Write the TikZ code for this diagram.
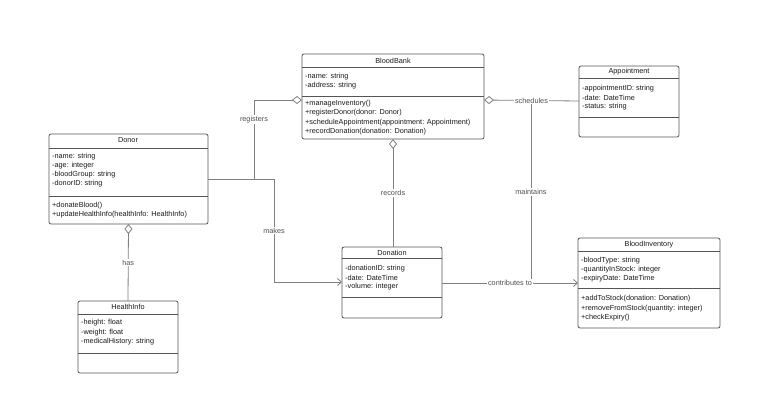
\documentclass[tikz,border=0pt]{standalone}
\usepackage{fontspec}
\setmainfont{Liberation Sans}
\usetikzlibrary{arrows.meta}
\definecolor{boxline}{HTML}{555555}
\definecolor{txt}{HTML}{1A1A1A}
\definecolor{conline}{HTML}{808080}
\definecolor{lbl}{HTML}{505050}
\tikzset{
  cls/.style={draw=boxline, line width=0.8pt, rounded corners=2pt, anchor=north west, inner sep=0pt, outer sep=0pt},
  sepline/.style={draw=boxline, line width=0.8pt},
  ttl/.style={font=\fontsize{7.3}{8}\selectfont, text=txt, inner sep=0pt},
  attr/.style={font=\fontsize{7.3}{8}\selectfont, text=txt, inner sep=0pt, anchor=west},
  conn/.style={draw=conline, line width=0.8pt},
  agg/.style={{Diamond[open,length=10pt,width=8pt,line width=0.8pt]}-},
  barb/.style={-{Straight Barb[length=4pt,width=7pt,line width=0.8pt]}},
  lab/.style={font=\fontsize{7.3}{8}\selectfont, text=lbl, fill=white, inner sep=1pt}
}
\begin{document}
\begin{tikzpicture}[x=1pt,y=-1pt]
\useasboundingbox[fill=white] (0,0) rectangle (768,418);

% BloodBank
\node[cls, minimum width=182pt, minimum height=85pt] (bb) at (302,54) {};
\node[ttl] (bbt) at (393,60.5) {BloodBank};
\draw[sepline] (302,67) -- (484,67);
\node[attr] (bba1) at (305,76.5) {-name: string};
\node[attr] (bba2) at (305,86) {-address: string};
\draw[sepline] (302,96.5) -- (484,96.5);
\node[attr] (bbm1) at (305,104) {+manageInventory()};
\node[attr] (bbm2) at (305,113) {+registerDonor(donor: Donor)};
\node[attr] (bbm3) at (305,122.5) {+scheduleAppointment(appointment: Appointment)};
\node[attr] (bbm4) at (305,131.5) {+recordDonation(donation: Donation)};

% Donor
\node[cls, minimum width=159pt, minimum height=90pt] (don) at (49,134) {};
\node[ttl] (dont) at (128,140.5) {Donor};
\draw[sepline] (49,148) -- (208,148);
\node[attr] (dona1) at (52,157) {-name: string};
\node[attr] (dona2) at (52,166) {-age: integer};
\node[attr] (dona3) at (52,175) {-bloodGroup: string};
\node[attr] (dona4) at (52,184) {-donorID: string};
\draw[sepline] (49,196.5) -- (208,196.5);
\node[attr] (donm1) at (52,205.5) {+donateBlood()};
\node[attr] (donm2) at (52,214.5) {+updateHealthInfo(healthInfo: HealthInfo)};

% Appointment
\node[cls, minimum width=100pt, minimum height=71pt] (app) at (579,66) {};
\node[ttl] (appt) at (629,72) {Appointment};
\draw[sepline] (579,78.5) -- (679,78.5);
\node[attr] (appa1) at (582,88.5) {-appointmentID: string};
\node[attr] (appa2) at (582,97.5) {-date: DateTime};
\node[attr] (appa3) at (582,106.5) {-status: string};
\draw[sepline] (579,117) -- (679,117);

% BloodInventory
\node[cls, minimum width=142pt, minimum height=90pt] (inv) at (578,238) {};
\node[ttl] (invt) at (649,244.5) {BloodInventory};
\draw[sepline] (578,251.5) -- (720,251.5);
\node[attr] (inva1) at (581,261) {-bloodType: string};
\node[attr] (inva2) at (581,270) {-quantityInStock: integer};
\node[attr] (inva3) at (581,279) {-expiryDate: DateTime};
\draw[sepline] (578,288.5) -- (720,288.5);
\node[attr] (invm1) at (581,299) {+addToStock(donation: Donation)};
\node[attr] (invm2) at (581,308.5) {+removeFromStock(quantity: integer)};
\node[attr] (invm3) at (581,317.5) {+checkExpiry()};

% Donation
\node[cls, minimum width=100pt, minimum height=71pt] (dnt) at (342,247) {};
\node[ttl] (dntt) at (392,252.5) {Donation};
\draw[sepline] (342,258.5) -- (442,258.5);
\node[attr] (dnta1) at (345,269) {-donationID: string};
\node[attr] (dnta2) at (345,278) {-date: DateTime};
\node[attr] (dnta3) at (345,287) {-volume: integer};
\draw[sepline] (342,297.5) -- (442,297.5);

% HealthInfo
\node[cls, minimum width=100pt, minimum height=72pt] (hi) at (78,301) {};
\node[ttl] (hit) at (128,307) {HealthInfo};
\draw[sepline] (78,314) -- (178,314);
\node[attr] (hia1) at (81,323) {-height: float};
\node[attr] (hia2) at (81,332.5) {-weight: float};
\node[attr] (hia3) at (81,341.5) {-medicalHistory: string};
\draw[sepline] (78,353) -- (178,353);

% junction coordinates
\coordinate (dj) at (274,179);
\coordinate (rj) at (254,179);
\coordinate (rt) at (254,100);
\coordinate (bbl) at (302,100);
\coordinate (bbr) at (484,100);
\coordinate (appl) at (579,101);
\coordinate (mt) at (531,101);
\coordinate (mb) at (531,283);
\coordinate (dntr) at (442,283);
\coordinate (invl) at (578,283);
\coordinate (dntl) at (342,282);
\coordinate (donr) at (208,179);

% connectors
\draw[conn] (donr) -- (dj);
\draw[conn, agg] (bbl) -- (rt) -- (rj) node[lab, pos=0.25] (lreg) {registers};
\draw[conn, barb] (dj) |- (dntl) node[lab, pos=0.25] (lmk) {makes};
\draw[conn, agg] (bb.south) -- (bb.south |- dnt.north) node[lab, midway] (lrec) {records};
\draw[conn] (mt) -- (mb) node[lab, midway] (lmain) {maintains};
\draw[conn, agg] (bbr) -- (appl) node[lab, midway] (lsch) {schedules};
\draw[conn, barb] (dntr) -- (invl) node[lab, midway] (lcon) {contributes to};
\draw[conn, agg] (don.south) -- (hi.north) node[lab, midway] (lhas) {has};
\end{tikzpicture}
\end{document}
